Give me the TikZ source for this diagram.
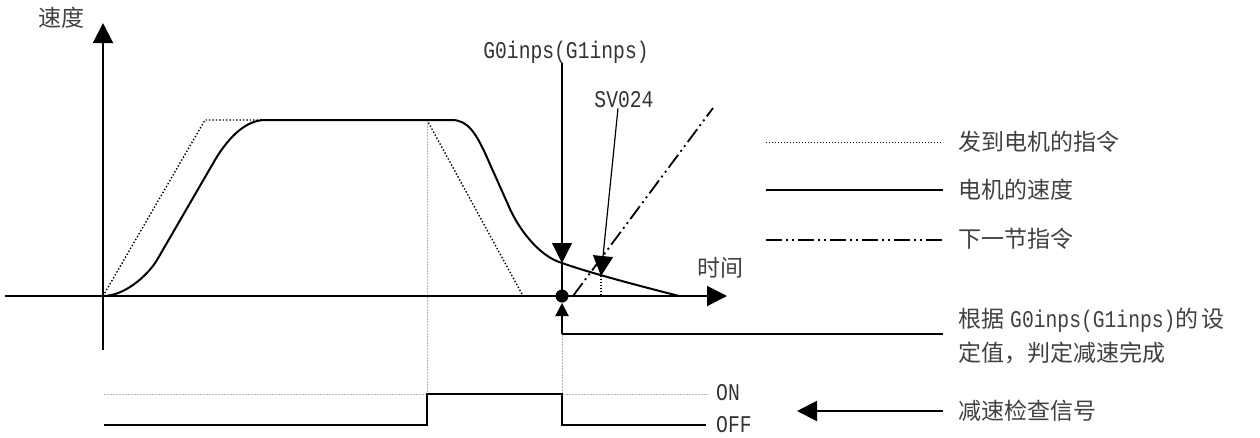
\documentclass[tikz,border=0pt]{standalone}
\usepackage{fontspec}
\newfontfamily\cjk{Noto Sans CJK SC}
\newfontfamily\lat[FakeStretch=0.82]{Liberation Mono}
\usetikzlibrary{arrows.meta}
\begin{document}
\begin{tikzpicture}[x=1pt,y=-1pt,
  axisline/.style={line width=2pt,black},
  cmdline/.style={line width=1.4pt,dash pattern=on 1.4pt off 2pt},
  cmdleg/.style={line width=1pt,dash pattern=on 1pt off 2pt},
  motor/.style={line width=2pt},
  nextcmd/.style={line width=1.8pt,dash pattern=on 16pt off 4pt on 2pt off 4pt on 2pt off 4pt},
  thinline/.style={line width=1.2pt},
  sig/.style={line width=2pt},
  guide/.style={line width=0.7pt,gray!60,dash pattern=on 1.5pt off 1.5pt},
  bigarrow/.style={-{Triangle[length=20pt,width=20pt]}},
  smallarrow/.style={-{Triangle[length=13pt,width=13pt]}},
  cjktext/.style={inner sep=0pt,text=black!75,font=\cjk\fontsize{23}{26}\selectfont},
  lattext/.style={inner sep=0pt,text=black!80,font=\lat\fontsize{24}{26}\selectfont}
]
\useasboundingbox (0,0) rectangle (1260,437);

% key coordinates
\coordinate (O) at (103,296);
\coordinate (xl) at (5,296);
\coordinate (xt) at (727,296);
\coordinate (yb) at (103,350);
\coordinate (yt) at (103,23);
\coordinate (c1) at (205,120);
\coordinate (c2) at (427,120);
\coordinate (c3) at (523,296);
\coordinate (p0) at (562,263);
\coordinate (dot) at (562,296);
\coordinate (up0) at (562,334);
\coordinate (up1) at (562,303);
\coordinate (hr) at (943,334);
\coordinate (sv0) at (601,276);
\coordinate (sv1) at (601,296);
\coordinate (n0) at (573,296);
\coordinate (n1) at (713,108);

% guides (gray dotted)
\coordinate (onL) at (104,394);
\coordinate (onR) at (708,394);
\draw[guide] (onL) -- (onR);
\draw[guide] (c2) -- (c2 |- onL);
\draw[guide] (dot) -- (dot |- onL);

% labels
\node[cjktext] (ylab) at (61,18) {速度};
\node[cjktext] (xlab) at (720,268) {时间};
\node[lattext] (g0) at (566,52) {G0inps(G1inps)};
\node[lattext] (sv) at (624,100) {SV024};
\node[lattext,anchor=west] (on) at (716,393) {ON};
\node[lattext,anchor=west] (off) at (716,425) {OFF};

% legend texts
\node[cjktext,anchor=west] (l1) at (958,142) {发到电机的指令};
\node[cjktext,anchor=west] (l2) at (958,190) {电机的速度};
\node[cjktext,anchor=west] (l3) at (958,239) {下一节指令};
\node[cjktext,anchor=west] (l4) at (958,320) {根据\hspace{6pt}{\lat\fontsize{24}{26}\selectfont G0inps(G1inps)}的\hspace{3pt}设};
\node[cjktext,anchor=west] (l5) at (958,353) {定值，判定减速完成};
\node[cjktext,anchor=west] (l6) at (958,411) {减速检查信号};

% legend lines
\draw[cmdleg] ([xshift=-192pt]l1.west) -- ([xshift=-15pt]l1.west);
\draw[motor] ([xshift=-192pt]l2.west) -- ([xshift=-15pt]l2.west);
\draw[nextcmd] ([xshift=-192pt,yshift=-1pt]l3.west) -- ([xshift=-15pt,yshift=-1pt]l3.west);
\draw[bigarrow,line width=2pt] ([xshift=-15pt]l6.west) -- ([xshift=-161pt]l6.west);

% axes
\draw[axisline,bigarrow] (xl) -- (xt);
\draw[axisline,bigarrow] (yb) -- (yt);

% command (dotted)
\draw[cmdline] (O) -- (c1) -- (c2) -- (c3);

% motor speed (solid)
\draw[motor] (O) .. controls (125,296) and (148,275) .. (157,260)
  -- (215,160) .. controls (225,143) and (243,120) .. (265,120)
  -- (452,120) .. controls (468,120) and (476,134) .. (485,153)
  -- (510,209) .. controls (518,227) and (538,256) .. (p0)
  .. controls (590,273) and (640,286) .. (679,296);

% next command (dash-dot-dot)
\draw[nextcmd] (n0) -- (n1);

% G0inps leader
\draw[thinline,bigarrow] (g0.south -| p0) -- (p0);
\draw[line width=2pt] (p0) -- (dot);
\fill (dot) circle (6.5pt);

% SV024 leader
\draw[thinline,bigarrow] ([xshift=-6pt]sv.south) -- (sv0);
\draw[line width=1.2pt,dash pattern=on 1.2pt off 1.8pt] (sv0) -- (sv1);

% completion arrow
\draw[line width=2pt,smallarrow] (up0) -- (up1);
\draw[line width=2pt] (up0) -- (hr);

% deceleration check signal
\draw[sig] (onL |- off.west) -- (c2 |- off.west) -- (c2 |- onL) -- (dot |- onL) -- (dot |- off.west) -- (706,425);
\end{tikzpicture}
\end{document}
